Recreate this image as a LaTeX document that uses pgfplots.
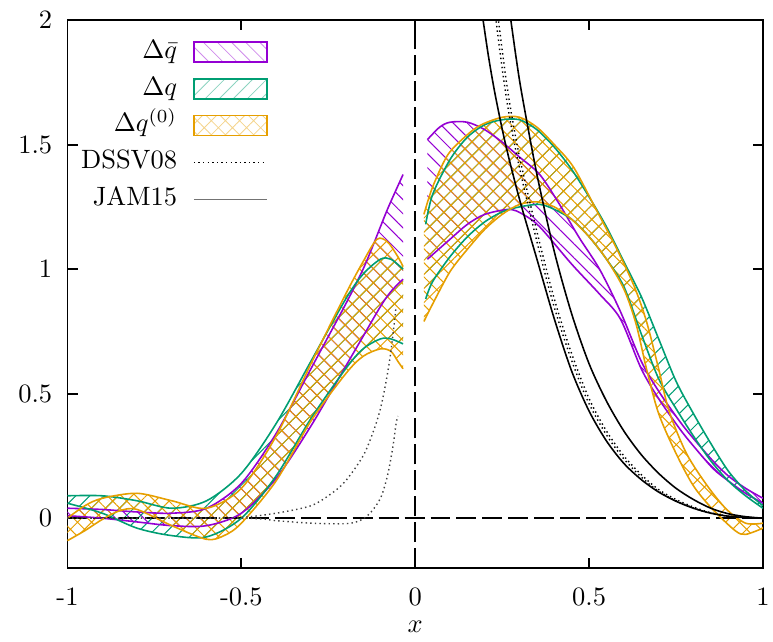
\documentclass[border=0pt]{standalone}
\usepackage{pgfplots}
\pgfplotsset{compat=1.18}
\usepgfplotslibrary{fillbetween}
\usetikzlibrary{patterns.meta}
\definecolor{cpur}{HTML}{9400D3}
\definecolor{cgrn}{HTML}{009E73}
\definecolor{corg}{HTML}{E69F00}
\tikzset{
  edge/.style={line width=0.6pt, smooth},
  dssv/.style={line width=0.53pt, dash pattern=on 0.53pt off 1.2pt, smooth},
  hpur/.style={pattern={Lines[angle=-45,distance=3.76pt,line width=0.38pt]}, pattern color=cpur},
  hgrn/.style={pattern={Lines[angle=45,distance=3.76pt,line width=0.38pt]}, pattern color=cgrn},
  horg/.style={pattern={Hatch[angle=45,distance=3.76pt,line width=0.38pt]}, pattern color=corg},
}
\begin{document}
\begin{tikzpicture}
\begin{axis}[
  scale only axis, width=261.5bp, height=206bp,
  xmin=-1, xmax=1, ymin=-0.2, ymax=2,
  xtick={-1,-0.5,0,0.5,1}, xticklabels={-1,-0.5,0,0.5,1},
  ytick={0,0.5,1,1.5,2}, yticklabels={0,0.5,1,1.5,2},
  tick align=inside, major tick length=3.76bp,
  axis line style={line width=0.68pt},
  tick style={line width=0.68pt, black},
  yticklabel style={xshift=-2.25bp},
  xticklabel style={yshift=-4.1bp},
  xlabel={$x$},
  xlabel style={yshift=1.2bp},
  legend plot pos=right,
  legend cell align=right,
  legend style={draw=none, fill=none, at={(0.30,0.975)}, anchor=north east,
    row sep=4.7bp, column sep=6bp,
    nodes={inner sep=0pt, text height=7pt, text depth=2.2pt}},
]
% zero lines
\addplot[forget plot, black, line width=0.68pt, dash pattern=on 7.5bp off 2.25bp] coordinates {(-1,0) (1,0)};
\addplot[forget plot, black, line width=0.68pt, dash pattern=on 7.5bp off 2.25bp] coordinates {(0,-0.2) (0,2)};

% ---------- Delta qbar (purple) ----------
\addplot[forget plot, name path=pUL, cpur, edge] coordinates {
(-1,0.04) (-0.9,0.035) (-0.8,0.025) (-0.7,0.02) (-0.6,0.04) (-0.5,0.14) (-0.4,0.34) (-0.3,0.60) (-0.2,0.86) (-0.15,1.0) (-0.12,1.10) (-0.08,1.24) (-0.035,1.38)};
\addplot[forget plot, name path=pLL, cpur, edge] coordinates {
(-1,0.01) (-0.9,0.0) (-0.8,-0.015) (-0.7,-0.03) (-0.6,-0.03) (-0.5,0.02) (-0.4,0.16) (-0.3,0.37) (-0.2,0.61) (-0.15,0.73) (-0.1,0.85) (-0.07,0.91) (-0.035,0.96)};
\addplot[forget plot, hpur] fill between[of=pUL and pLL];
\addplot[forget plot, name path=pUR, cpur, edge] coordinates {
(0.035,1.52) (0.07,1.57) (0.10,1.59) (0.15,1.59) (0.20,1.56) (0.25,1.51) (0.30,1.45) (0.358,1.38) (0.415,1.26) (0.47,1.13) (0.53,1.00) (0.59,0.83) (0.65,0.63) (0.70,0.51) (0.76,0.39) (0.80,0.32) (0.856,0.23) (0.90,0.17) (0.95,0.12) (1.0,0.08)};
\addplot[forget plot, name path=pLR, cpur, edge] coordinates {
(0.035,1.04) (0.10,1.12) (0.15,1.18) (0.20,1.22) (0.27,1.24) (0.31,1.22) (0.358,1.17) (0.45,1.02) (0.53,0.90) (0.59,0.80) (0.65,0.60) (0.70,0.48) (0.76,0.36) (0.80,0.29) (0.856,0.20) (0.90,0.15) (0.95,0.10) (1.0,0.06)};
\addplot[forget plot, hpur] fill between[of=pUR and pLR];

% ---------- Delta q (green) ----------
\addplot[forget plot, name path=gUL, cgrn, edge] coordinates {
(-1,0.09) (-0.9,0.09) (-0.8,0.07) (-0.7,0.04) (-0.6,0.07) (-0.5,0.18) (-0.4,0.38) (-0.3,0.63) (-0.2,0.88) (-0.15,0.98) (-0.1,1.04) (-0.07,1.04) (-0.035,1.0)};
\addplot[forget plot, name path=gLL, cgrn, edge] coordinates {
(-1,0.06) (-0.9,0.02) (-0.8,-0.04) (-0.7,-0.07) (-0.6,-0.075) (-0.5,0.0) (-0.4,0.17) (-0.3,0.40) (-0.2,0.60) (-0.15,0.68) (-0.1,0.72) (-0.07,0.72) (-0.035,0.70)};
\addplot[forget plot, hgrn] fill between[of=gUL and gLL];
\addplot[forget plot, name path=gUR, cgrn, edge] coordinates {
(0.03,1.18) (0.05,1.30) (0.10,1.44) (0.15,1.53) (0.20,1.58) (0.25,1.60) (0.30,1.60) (0.35,1.56) (0.40,1.49) (0.45,1.40) (0.50,1.29) (0.55,1.17) (0.60,1.03) (0.65,0.89) (0.70,0.72) (0.75,0.55) (0.80,0.42) (0.85,0.30) (0.90,0.19) (0.95,0.11) (1.0,0.05)};
\addplot[forget plot, name path=gLR, cgrn, edge] coordinates {
(0.03,0.88) (0.05,0.95) (0.10,1.05) (0.15,1.13) (0.20,1.19) (0.25,1.23) (0.30,1.25) (0.358,1.26) (0.40,1.24) (0.45,1.20) (0.50,1.13) (0.55,1.04) (0.60,0.93) (0.65,0.74) (0.70,0.56) (0.75,0.44) (0.80,0.33) (0.85,0.23) (0.90,0.15) (0.95,0.09) (1.0,0.04)};
\addplot[forget plot, hgrn] fill between[of=gUR and gLR];

% ---------- Delta q^(0) (orange) ----------
\addplot[forget plot, name path=oUL, corg, edge] coordinates {
(-1,0.0) (-0.95,0.05) (-0.9,0.08) (-0.8,0.10) (-0.7,0.07) (-0.6,0.04) (-0.5,0.12) (-0.4,0.33) (-0.3,0.62) (-0.2,0.90) (-0.15,1.03) (-0.11,1.12) (-0.08,1.11) (-0.05,1.05) (-0.035,1.01)};
\addplot[forget plot, name path=oLL, corg, edge] coordinates {
(-1,-0.09) (-0.95,-0.05) (-0.9,-0.005) (-0.85,0.03) (-0.8,0.035) (-0.7,-0.03) (-0.6,-0.085) (-0.55,-0.07) (-0.5,-0.02) (-0.4,0.15) (-0.3,0.39) (-0.2,0.58) (-0.15,0.65) (-0.1,0.68) (-0.07,0.67) (-0.05,0.63) (-0.035,0.60)};
\addplot[forget plot, horg] fill between[of=oUL and oLL];
\addplot[forget plot, name path=oUR, corg, edge] coordinates {
(0.025,1.22) (0.05,1.33) (0.094,1.46) (0.15,1.54) (0.19,1.58) (0.25,1.61) (0.30,1.61) (0.35,1.57) (0.40,1.50) (0.455,1.41) (0.52,1.24) (0.58,1.08) (0.63,0.93) (0.665,0.79) (0.70,0.60) (0.73,0.43) (0.78,0.26) (0.84,0.13) (0.895,0.036) (0.95,-0.02) (1.0,-0.02)};
\addplot[forget plot, name path=oLR, corg, edge] coordinates {
(0.025,0.79) (0.05,0.86) (0.10,0.99) (0.15,1.08) (0.20,1.16) (0.25,1.22) (0.30,1.26) (0.35,1.27) (0.40,1.25) (0.45,1.20) (0.50,1.13) (0.55,1.04) (0.60,0.92) (0.635,0.78) (0.665,0.60) (0.70,0.42) (0.75,0.26) (0.80,0.13) (0.855,0.036) (0.92,-0.05) (0.95,-0.065) (1.0,-0.04)};
\addplot[forget plot, horg] fill between[of=oUR and oLR];

% ---------- DSSV08 (dotted) ----------
\addplot[forget plot, black!75, dssv] coordinates {
(-1,0) (-0.6,0) (-0.5,0.003) (-0.4,0.02) (-0.3,0.05) (-0.24,0.10) (-0.2,0.15) (-0.15,0.25) (-0.12,0.35) (-0.1,0.44) (-0.085,0.54) (-0.073,0.64) (-0.063,0.75) (-0.055,0.85)};
\addplot[forget plot, black!75, dssv] coordinates {
(-1,0) (-0.5,0) (-0.4,-0.01) (-0.3,-0.02) (-0.2,-0.022) (-0.16,-0.01) (-0.13,0.02) (-0.1,0.08) (-0.08,0.17) (-0.065,0.28) (-0.055,0.38) (-0.05,0.41)};
\addplot[forget plot, black, dssv] coordinates {
(0.235,2.05) (0.25,1.88) (0.27,1.68) (0.30,1.45) (0.35,1.15) (0.40,0.88) (0.45,0.66) (0.50,0.48) (0.55,0.35) (0.60,0.25) (0.65,0.175) (0.70,0.115) (0.75,0.075) (0.80,0.045) (0.85,0.022) (0.90,0.009) (1.0,0)};
\addplot[forget plot, black, dssv] coordinates {
(0.228,2.05) (0.243,1.88) (0.263,1.68) (0.293,1.45) (0.343,1.15) (0.393,0.88) (0.443,0.66) (0.493,0.48) (0.543,0.35) (0.593,0.25) (0.643,0.175) (0.693,0.115) (0.743,0.075) (0.793,0.045) (0.843,0.022) (0.90,0.008) (1.0,0)};

% ---------- JAM15 (solid) ----------
\addplot[forget plot, black, edge] coordinates {
(0.19,2.05) (0.21,1.86) (0.23,1.70) (0.26,1.50) (0.30,1.28) (0.35,1.04) (0.40,0.80) (0.45,0.59) (0.50,0.43) (0.55,0.31) (0.60,0.22) (0.65,0.155) (0.70,0.105) (0.75,0.068) (0.80,0.04) (0.85,0.02) (0.90,0.008) (0.95,0.002) (1.0,0)};
\addplot[forget plot, black, edge] coordinates {
(0.27,2.05) (0.29,1.85) (0.307,1.70) (0.35,1.38) (0.40,1.07) (0.45,0.82) (0.50,0.62) (0.55,0.47) (0.60,0.35) (0.65,0.255) (0.70,0.18) (0.75,0.12) (0.80,0.075) (0.85,0.04) (0.90,0.018) (0.95,0.006) (1.0,0)};

% ---------- legend ----------
\addlegendimage{legend image code/.code={\draw[cpur, line width=0.68pt, pattern={Lines[angle=-45,distance=3.76pt,line width=0.3pt]}, pattern color=cpur!45] (0bp,-3.76bp) rectangle (27.45bp,3.76bp);}}
\addlegendentry{$\Delta\bar{q}$}
\addlegendimage{legend image code/.code={\draw[cgrn, line width=0.68pt, pattern={Lines[angle=45,distance=3.76pt,line width=0.3pt]}, pattern color=cgrn!45] (0bp,-3.76bp) rectangle (27.45bp,3.76bp);}}
\addlegendentry{$\Delta q$}
\addlegendimage{legend image code/.code={\draw[corg, line width=0.68pt, pattern={Hatch[angle=45,distance=3.76pt,line width=0.3pt]}, pattern color=corg!45] (0bp,-3.76bp) rectangle (27.45bp,3.76bp);}}
\addlegendentry{$\Delta q^{(0)}$}
\addlegendimage{legend image code/.code={\draw[black, line width=0.53pt, dash pattern=on 0.53pt off 1.2pt] (0bp,0bp) -- (27.45bp,0bp);}}
\addlegendentry{DSSV08}
\addlegendimage{legend image code/.code={\draw[black!55, line width=0.6pt] (0bp,0bp) -- (27.45bp,0bp);}}
\addlegendentry{JAM15}
\end{axis}
\pgfresetboundingbox
\useasboundingbox (-25.38bp,-27.82bp) rectangle (265.27bp,213.57bp);
\end{tikzpicture}
\end{document}
